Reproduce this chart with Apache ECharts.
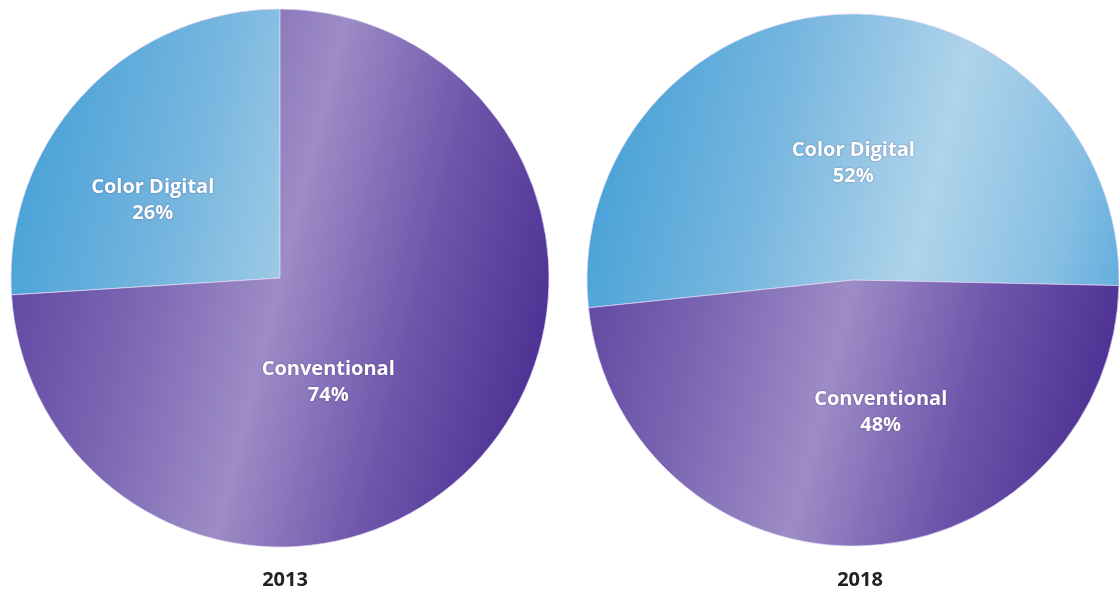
<!DOCTYPE html>
<html>
<head>
<meta charset="utf-8">
<script src="https://cdn.jsdelivr.net/npm/echarts@6/dist/echarts.min.js"></script>
<style>
  html, body { margin: 0; padding: 0; background: #fff; }
  #chart { width: 1119px; height: 594px; }
</style>
</head>
<body>
<div id="chart"></div>
<script>
// data
var categories = ['Color Digital', 'Conventional']
var years = ['2013', '2018']
var share2013 = [26, 74]
var share2018 = [52, 48]

var chart = echarts.init(document.getElementById('chart'))

// gradient across the whole pie box (light band running top to bottom)
function purple(cx, cy, r) {
  return {
    type: 'linear', global: true,
    x: cx - r, y: cy - r * 0.25, x2: cx + r, y2: cy + r * 0.25,
    colorStops: [
      { offset: 0, color: '#5f45a0' },
      { offset: 0.25, color: '#7a65b2' },
      { offset: 0.5, color: '#9d8cc6' },
      { offset: 0.75, color: '#6f56ab' },
      { offset: 1, color: '#4c3193' }
    ]
  }
}
function blue(cx, cy, r) {
  return {
    type: 'linear', global: true,
    x: cx - r, y: cy - r * 0.25, x2: cx + r, y2: cy + r * 0.25,
    colorStops: [
      { offset: 0, color: '#4aa2d8' },
      { offset: 0.3, color: '#78b7df' },
      { offset: 0.6, color: '#afd3ea' },
      { offset: 0.85, color: '#86bfe3' },
      { offset: 1, color: '#5dabdd' }
    ]
  }
}

var labelStyle = {
  show: true,
  position: 'inside',
  color: '#fff',
  fontFamily: 'Open Sans',
  fontWeight: 'bold',
  fontSize: 20,
  lineHeight: 26,
  textShadowColor: 'rgba(40,20,80,0.45)',
  textShadowBlur: 2,
  formatter: function (p) { return p.name + '\n' + p.value + '%' }
}

function buildSeries(values, center, radius, startAngle, offsets) {
  var fills = [blue(center[0], center[1], radius), purple(center[0], center[1], radius)]
  return {
    type: 'pie',
    center: center,
    radius: radius,
    startAngle: startAngle,
    clockwise: false,
    silent: true,
    avoidLabelOverlap: false,
    label: labelStyle,
    labelLine: { show: false },
    itemStyle: { borderColor: 'rgba(225,220,245,0.7)', borderWidth: 1 },
    data: categories.map(function (name, i) {
      return {
        name: name,
        value: values[i],
        itemStyle: { color: fills[i] },
        label: { offset: offsets[i] }
      }
    })
  }
}

var yearText = { fontFamily: 'Open Sans', fontWeight: 'bold', fontSize: 20, color: '#222' }

chart.setOption({
  animation: false,
  title: [
    { text: years[0], left: 280, top: 565, textAlign: 'center', textStyle: yearText },
    { text: years[1], left: 855, top: 565, textAlign: 'center', textStyle: yearText }
  ],
  series: [
    buildSeries(share2013, [280, 278], 269, 90, [[-27, 16], [-52, 10]]),
    buildSeries(share2018, [853, 280], 266, -1.2, [[6, 19], [22, -4]])
  ]
})
</script>
</body>
</html>
